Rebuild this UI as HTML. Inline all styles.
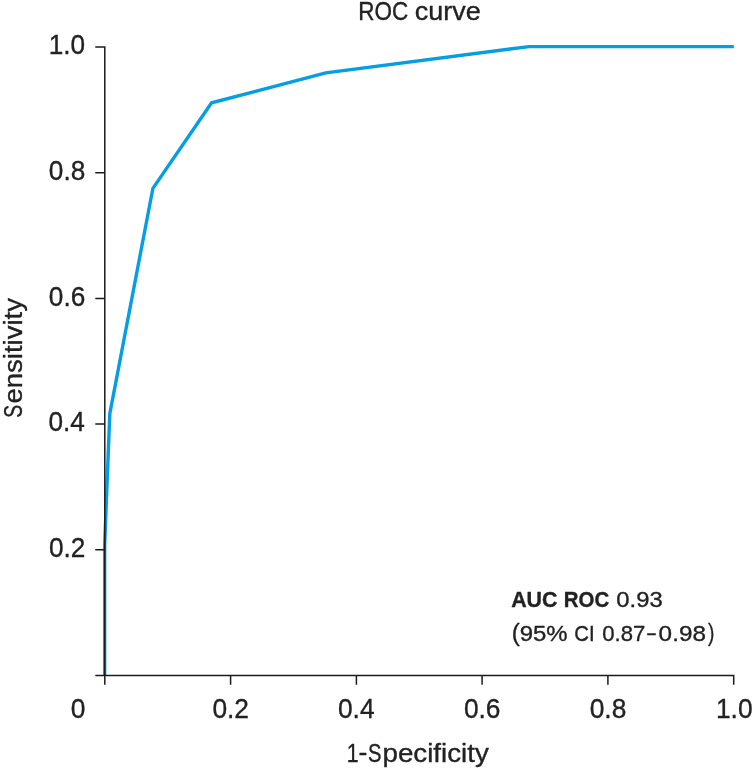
<!DOCTYPE html>
<html lang="en">
<head>
<meta charset="utf-8">
<title>ROC curve</title>
<style>
html,body{margin:0;padding:0;background:#ffffff;}
body{width:753px;height:770px;overflow:hidden;}
svg{display:block;}
</style>
</head>
<body>
<svg width="753" height="770" viewBox="0 0 753 770" font-family='"Liberation Sans", sans-serif'>
<rect width="753" height="770" fill="#ffffff"/>
<polyline fill="none" stroke="#059de3" stroke-width="3.4" stroke-linejoin="miter" points="104.65,675.5 104.65,545 109.8,413.8 152.9,188.3 211.6,102.8 325.8,72.8 528.9,46.6 733.8,46.6"/>
<path d="M95.3,47.0 H104.8 V684.7 M95.3,675.5 H733.7 V684.7 M95.3,549.8 H104.8 M230.6,675.5 V684.7 M95.3,424.1 H104.8 M356.4,675.5 V684.7 M95.3,298.4 H104.8 M482.1,675.5 V684.7 M95.3,172.7 H104.8 M607.9,675.5 V684.7" fill="none" stroke="#1c1a1a" stroke-width="1.5" stroke-linejoin="miter" stroke-linecap="butt"/>
<g fill="#222222" stroke="#222222" stroke-width="0.35" stroke-linejoin="round">
<text transform="translate(48.69,54.30) scale(0.9300,1)" font-size="28.20">1.0</text>
<text transform="translate(48.83,180.00) scale(0.9300,1)" font-size="28.20">0.8</text>
<text transform="translate(48.83,305.70) scale(0.9300,1)" font-size="28.20">0.6</text>
<text transform="translate(48.43,431.40) scale(0.9300,1)" font-size="28.20">0.4</text>
<text transform="translate(48.96,557.10) scale(0.9300,1)" font-size="28.20">0.2</text>
<text transform="translate(70.72,717.55) scale(0.9350,1)" font-size="28.20">0</text>
<text transform="translate(212.39,717.55) scale(0.9350,1)" font-size="28.20">0.2</text>
<text transform="translate(337.90,717.55) scale(0.9350,1)" font-size="28.20">0.4</text>
<text transform="translate(463.88,717.55) scale(0.9350,1)" font-size="28.20">0.6</text>
<text transform="translate(589.66,717.55) scale(0.9350,1)" font-size="28.20">0.8</text>
<text transform="translate(715.92,717.55) scale(0.9350,1)" font-size="28.20">1.0</text>
<text y="19.95"><tspan x="358.30" font-size="25.30" textLength="49.95" lengthAdjust="spacingAndGlyphs">ROC</tspan> <tspan x="414.68" font-size="26.20" textLength="66.04" lengthAdjust="spacingAndGlyphs">curve</tspan></text>
<text y="761.8"><tspan x="346.80" font-size="26.20" textLength="11.90" lengthAdjust="spacingAndGlyphs">1</tspan><tspan x="358.61" y="760.60" font-size="26.20" textLength="8.84" lengthAdjust="spacingAndGlyphs">-</tspan><tspan x="367.99" y="761.80" font-size="26.20" textLength="13.46" lengthAdjust="spacingAndGlyphs">S</tspan><tspan x="382.50" font-size="26.20" textLength="106.33" lengthAdjust="spacingAndGlyphs">pecificity</tspan></text>
<text transform="translate(22,416.9) rotate(-90)" y="0"><tspan x="-0.87" font-size="26.30" textLength="12.88" lengthAdjust="spacingAndGlyphs">S</tspan><tspan x="13.46" font-size="26.30" textLength="105.36" lengthAdjust="spacingAndGlyphs">ensitivity</tspan></text>
<text y="607.4"><tspan x="511.17" font-size="22.40" font-weight="bold" textLength="46.31" lengthAdjust="spacingAndGlyphs">AUC</tspan> <tspan x="563.87" font-size="22.40" font-weight="bold" textLength="45.38" lengthAdjust="spacingAndGlyphs">ROC</tspan> <tspan x="616.35" font-size="22.60" textLength="46.36" lengthAdjust="spacingAndGlyphs">0.93</tspan></text>
<text y="641.3"><tspan x="511.75" y="641.00" font-size="24.40" textLength="8.04" lengthAdjust="spacingAndGlyphs">(</tspan><tspan x="519.72" y="641.30" font-size="22.60" textLength="47.95" lengthAdjust="spacingAndGlyphs">95%</tspan> <tspan x="574.28" font-size="22.40" textLength="20.35" lengthAdjust="spacingAndGlyphs">CI</tspan> <tspan x="602.31" font-size="22.60" textLength="43.12" lengthAdjust="spacingAndGlyphs">0.87</tspan><tspan x="647.20" y="639.80" font-size="22.60" textLength="8.42" lengthAdjust="spacingAndGlyphs">–</tspan><tspan x="658.63" y="641.30" font-size="22.60" textLength="47.28" lengthAdjust="spacingAndGlyphs">0.98</tspan><tspan x="708.11" y="641.00" font-size="24.40" textLength="6.40" lengthAdjust="spacingAndGlyphs">)</tspan></text>
</g>
</svg>
</body>
</html>
